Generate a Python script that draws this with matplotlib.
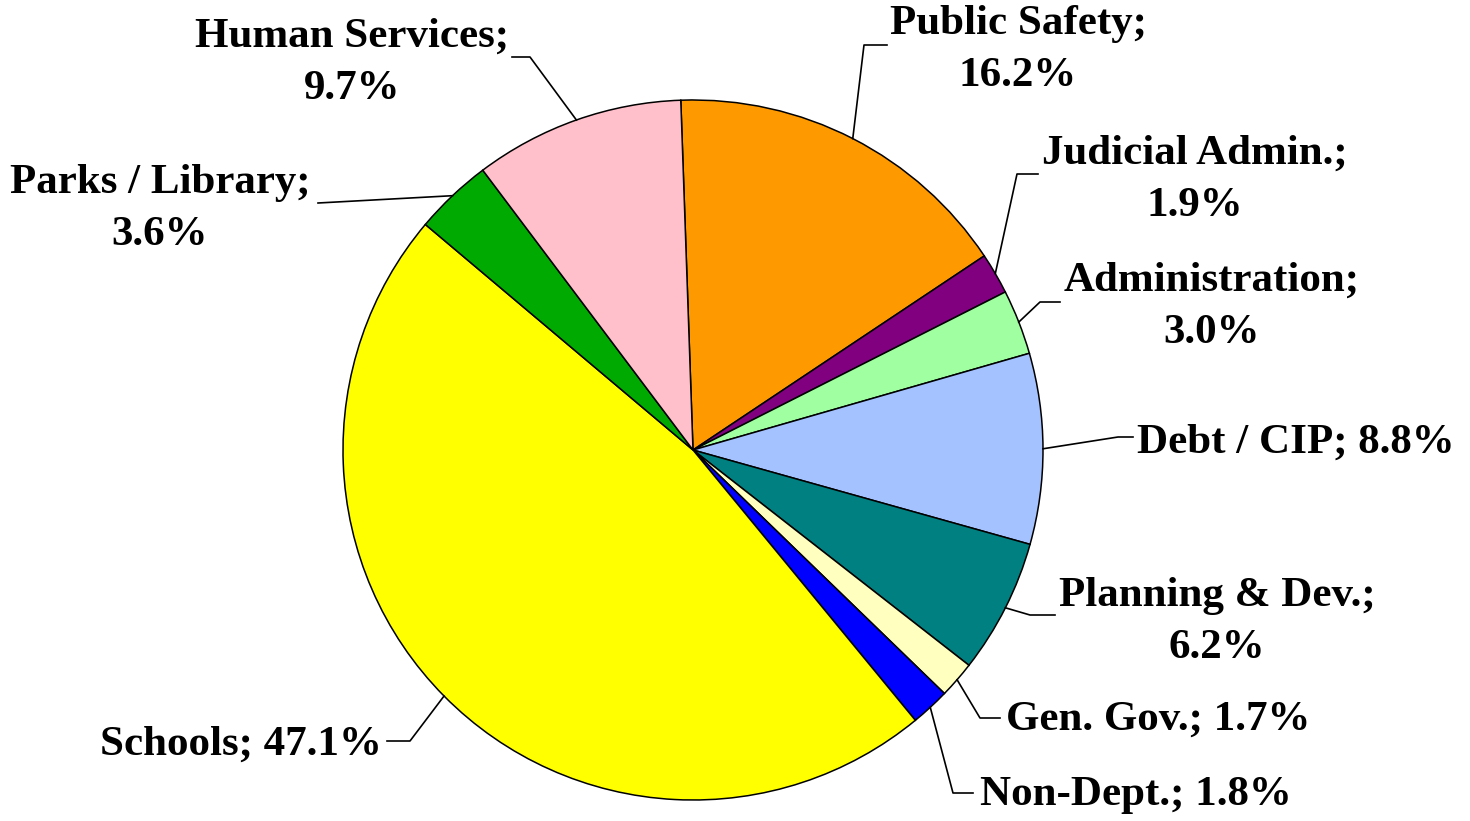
import numpy as np
import matplotlib
matplotlib.use("Agg")
import matplotlib.pyplot as plt

# Budget share by function, clockwise from the top
categories = ["Public Safety", "Judicial Admin.", "Administration", "Debt / CIP",
              "Planning & Dev.", "Gen. Gov.", "Non-Dept.", "Schools",
              "Parks / Library", "Human Services"]
shares = [16.2, 1.9, 3.0, 8.8, 6.2, 1.7, 1.8, 47.1, 3.6, 9.7]
colors = ["#FF9900", "#800080", "#A0FFA0", "#A4C2FF", "#008080",
          "#FFFFC0", "#0000FF", "#FFFF00", "#00AA00", "#FFC0CB"]
two_line = [True, True, True, False, True, False, False, False, True, True]

# label layout in figure pixels: text anchor, elbow of leader line, line end x
text_pos = [(1018, 50), (1195, 180), (1212, 307), (1137, 443), (1217, 622),
            (1006, 720), (980, 795), (382, 745), (160, 209), (352, 63)]
text_ha = ["center", "center", "center", "left", "center",
           "left", "left", "right", "center", "center"]
elbows = [(864, 45), (1017, 174), (1040, 302), (1118, 437), (1030, 615),
          (980, 718), (953, 793), (410, 741), (318, 203), (530, 57)]
line_end = [887, 1038, 1060, 1133, 1055, 1000, 973, 387, 318, 512]

W, H = 1470, 821
CX, CY, R = 693, 450, 350

fig = plt.figure(figsize=(W / 100, H / 100), dpi=100)
ax = fig.add_axes([0, 0, 1, 1])

wedges, _ = ax.pie(shares, colors=colors, startangle=-92, counterclock=True,
                   center=(CX, CY), radius=R, frame=True,
                   wedgeprops=dict(edgecolor="black", linewidth=1.1))
ax.set_xlim(0, W)
ax.set_ylim(H, 0)
ax.set_aspect("equal")
ax.axis("off")

font = dict(family="Liberation Serif", weight="bold", size=31)

for i, w in enumerate(wedges):
    mid = np.deg2rad((w.theta1 + w.theta2) / 2)
    ex, ey = CX + R * np.cos(mid), CY + R * np.sin(mid)
    bx, by = elbows[i]
    ax.plot([ex, bx, line_end[i]], [ey, by, by], color="black", lw=1.2)
    if two_line[i]:
        txt = f"{categories[i]};\n{shares[i]:.1f}%"
    else:
        txt = f"{categories[i]}; {shares[i]:.1f}%"
    tx, ty = text_pos[i]
    ax.text(tx, ty, txt, ha=text_ha[i], va="center", multialignment="center",
            linespacing=1.5, **font)

fig.savefig("out.png", dpi=100)
